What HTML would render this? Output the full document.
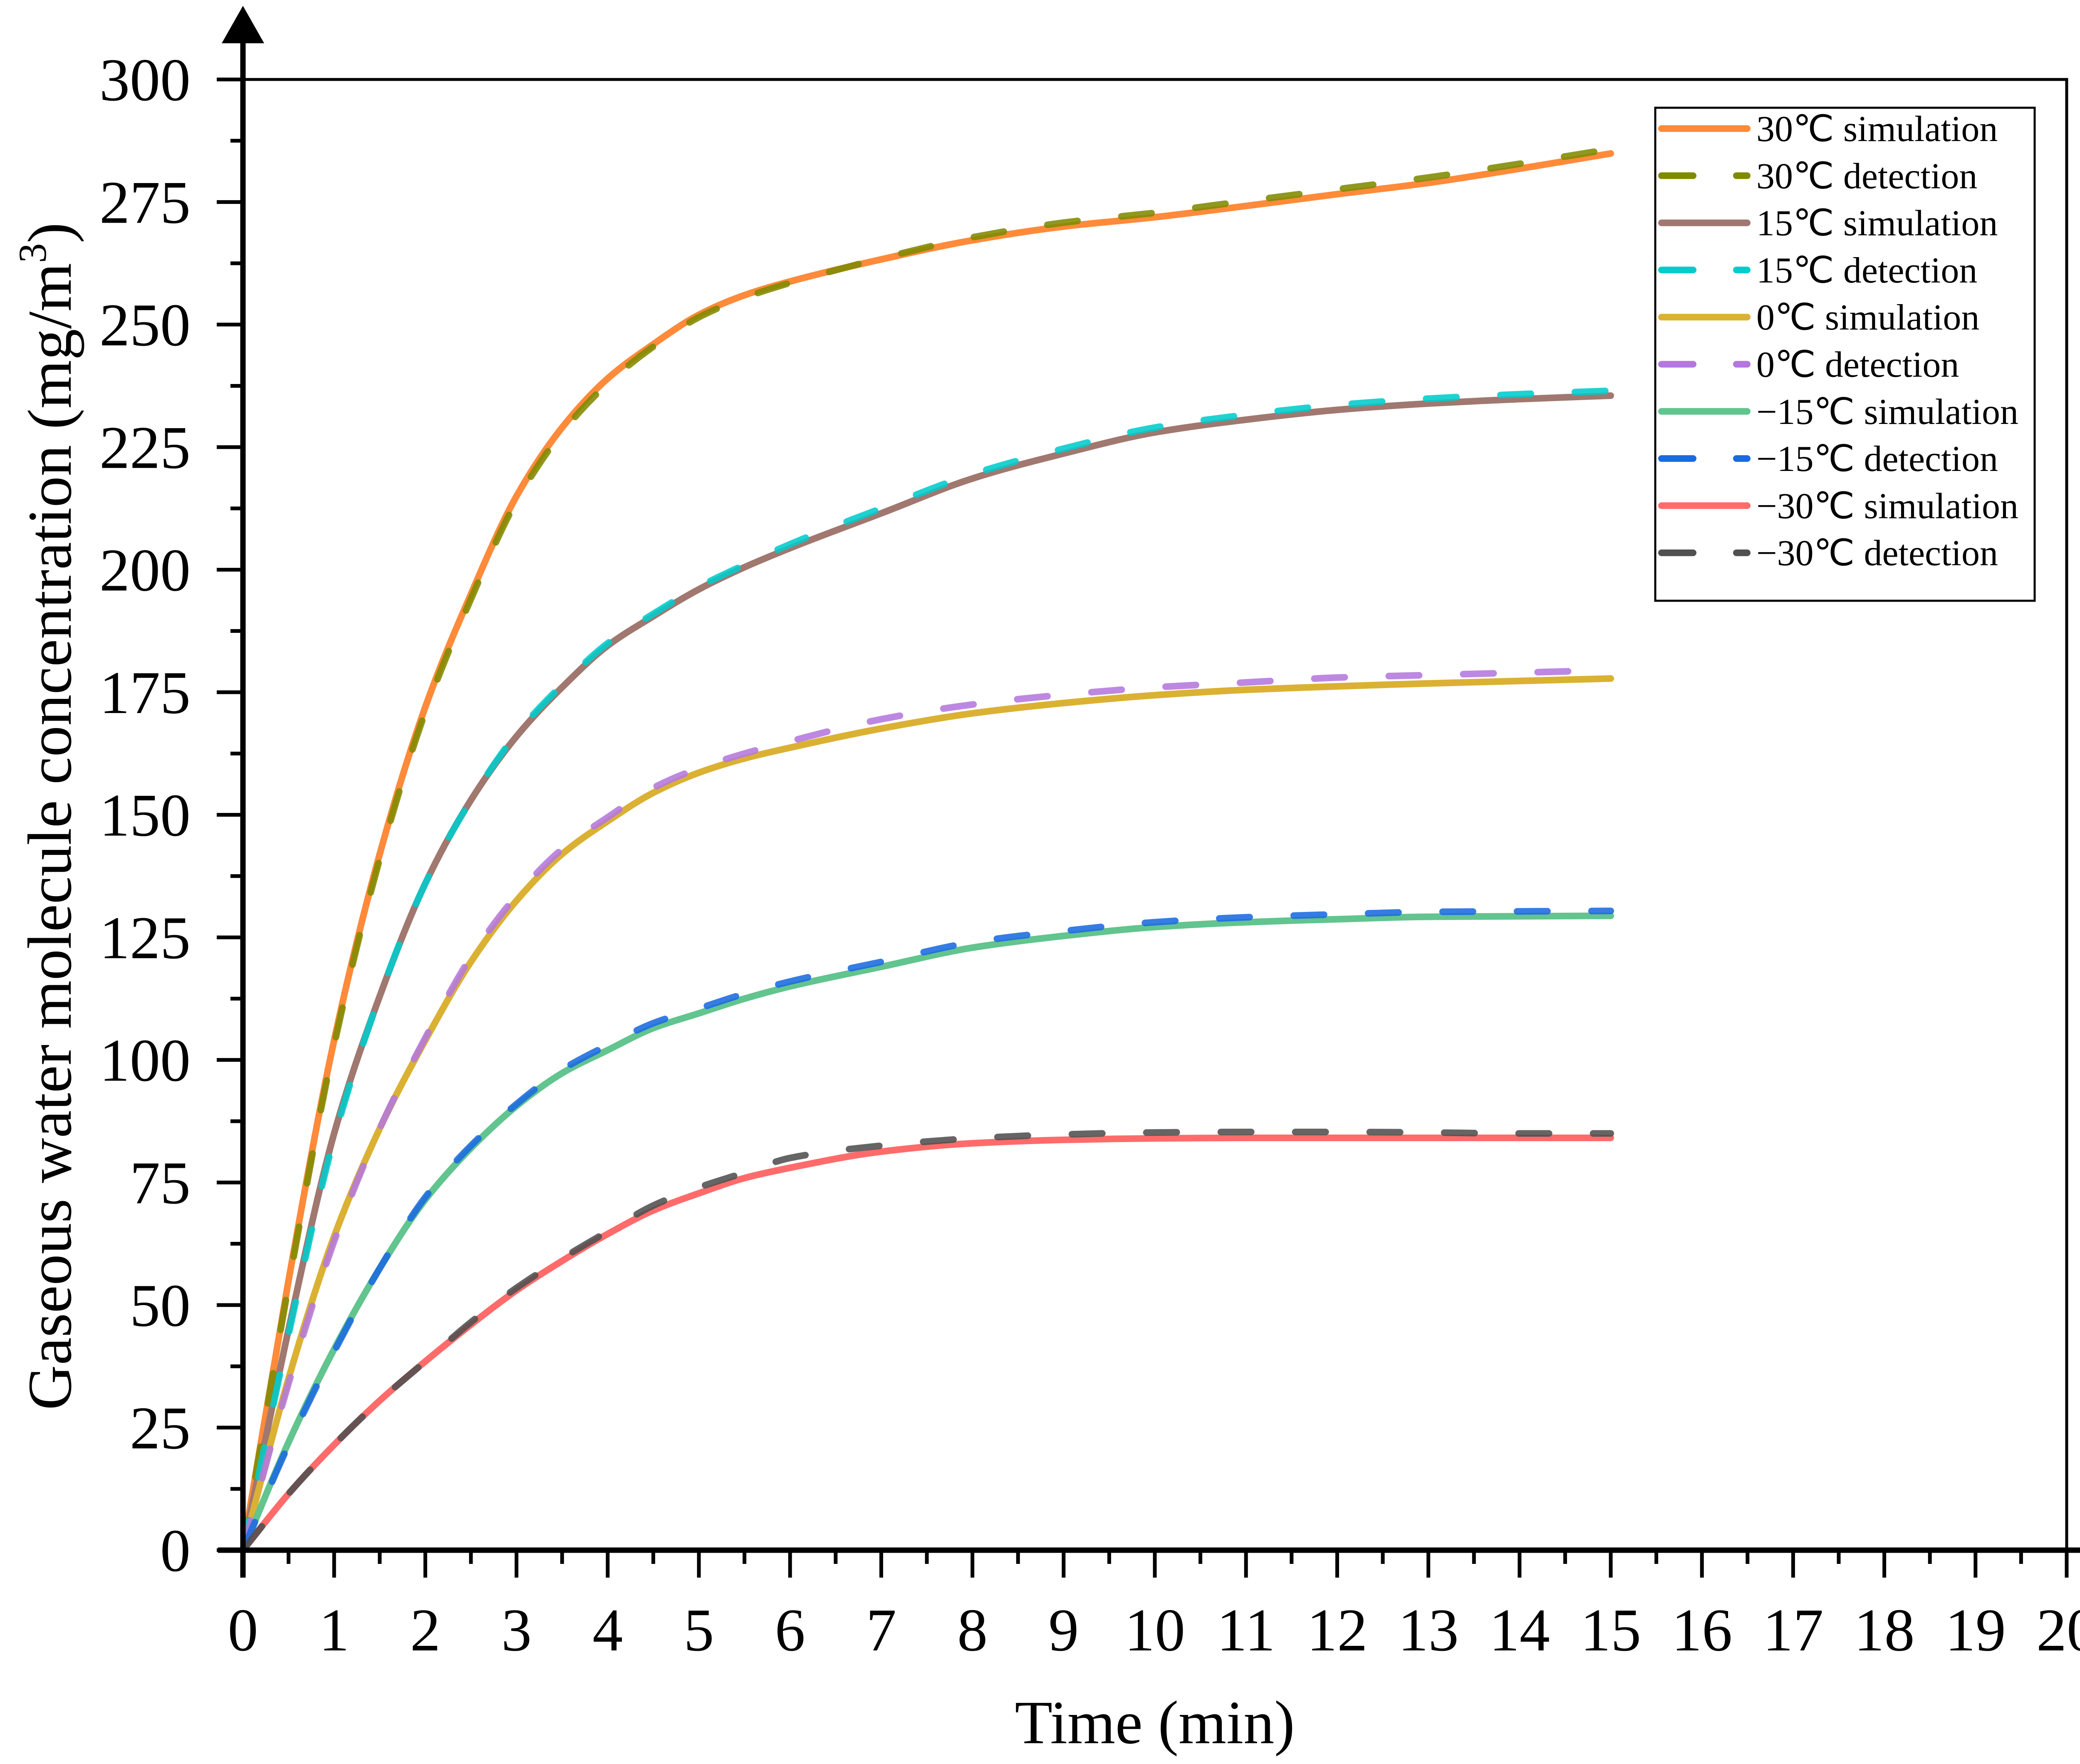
<!DOCTYPE html>
<html><head><meta charset="utf-8">
<style>
html,body{margin:0;padding:0;background:#fff;}
svg{display:block;}
text{font-family:"Liberation Serif","Times New Roman",serif;fill:#000;}
</style></head>
<body>
<svg id="chart" width="5200" height="4240" viewBox="0 0 5200 4240" xmlns="http://www.w3.org/2000/svg">
<rect width="5200" height="4240" fill="#fff"/>
<g id="series"></g>
<g id="axes"></g>
<g id="legend"></g>
<text x="2776" y="4190" font-size="148" text-anchor="middle">Time (min)</text>
<text transform="translate(170,1962) rotate(-90)" font-size="150" text-anchor="middle">Gaseous water molecule concentration (mg/m<tspan font-size="95" dy="-60">3</tspan><tspan dy="60">)</tspan></text>
</svg>
<script>
const xs = [0,0.5,1,1.5,2,2.5,3,3.5,4,4.5,5,5.5,6,7,8,9,10,11,12,13,14,15];
const sim30 = [0,55,104,142,172,195,215,229,239,246,252,256,258.8,263.3,267.2,270,271.9,274.2,276.6,278.9,281.8,284.9];
const det30 = [0,54,103,141,171,194,214,228,238,245.5,251.5,255.5,258.5,263.5,267.8,270.8,272.8,275.2,277.6,280,282.8,285.8];
const sim15 = [0,45,85,113,136,153,166,176,184.5,190.5,196,200.5,204.4,211.5,218.6,223.7,228,230.6,232.6,233.9,234.8,235.5];
const det15 = [0,44,84,113,136,153,166.5,176.5,185,191,196.5,201,205.2,212.5,219.5,224.7,229,231.6,233.6,234.9,235.8,236.5];
const sim0 = [0,35,64,86,104,120,132.5,142,148.7,154.5,158.6,161.5,163.7,167.6,170.7,172.8,174.4,175.5,176.2,176.8,177.3,177.8];
const det0 = [0,34,63,86,104.5,121,133.5,143,149.5,155.5,159.5,162.5,165,169.5,172.5,174.5,176,177,178,178.5,179,179.5];
const simM15 = [0,22,41,57.5,71.5,82,90.6,97.3,102,106.5,109.5,112.5,115,119,122.9,125.3,127.1,128.1,128.7,129.2,129.3,129.4];
const detM15 = [0,21.5,40.5,57.5,72,82.5,91,98,103,107.5,110.5,113.5,116,120,124,126.3,128.1,129.1,129.7,130.2,130.3,130.4];
const simM30 = [0,11.5,21.5,30.5,38.5,46,53,59,64.5,69.3,72.8,75.9,78,81.3,83,83.7,84,84.1,84.1,84.1,84.1,84.1];
const detM30 = [0,11.5,21.5,30.5,38.5,46.5,53.5,59.5,65,70.3,74,77,80,82.5,84,84.8,85.2,85.3,85.3,85.2,85,85];
const xTicks = ["0","1","2","3","4","5","6","7","8","9","10","11","12","13","14","15","16","17","18","19","20"];
const yTicks = ["0","25","50","75","100","125","150","175","200","225","250","275","300"];
const legendLabels = ["30\u2103 simulation","30\u2103 detection","15\u2103 simulation","15\u2103 detection","0\u2103  simulation","0\u2103  detection","\u221215\u2103 simulation","\u221215\u2103 detection","\u221230\u2103 simulation","\u221230\u2103 detection"];

const NS="http://www.w3.org/2000/svg";
const L=584,R=4968,T=191,B=3726;
const X=v=>L+(v/20)*(R-L);
const Y=v=>B-(v/300)*(B-T);
function mk(tag,attrs,parent){const e=document.createElementNS(NS,tag);for(const k in attrs)e.setAttribute(k,attrs[k]);parent.appendChild(e);return e;}
function pathD(arr){
  const n=xs.length, d=[], m=new Array(n);
  for(let i=0;i<n-1;i++) d.push((arr[i+1]-arr[i])/(xs[i+1]-xs[i]));
  m[0]=d[0]; m[n-1]=d[n-2];
  for(let i=1;i<n-1;i++){
    if(d[i-1]*d[i]<=0) m[i]=0;
    else { const h0=xs[i]-xs[i-1],h1=xs[i+1]-xs[i];
      const w1=2*h1+h0,w2=h1+2*h0; m[i]=(w1+w2)/(w1/d[i-1]+w2/d[i]); }
  }
  let s="M"+X(xs[0]).toFixed(1)+","+Y(arr[0]).toFixed(1);
  for(let i=0;i<n-1;i++){
    const h=xs[i+1]-xs[i];
    const c1x=xs[i]+h/3,c1y=arr[i]+m[i]*h/3;
    const c2x=xs[i+1]-h/3,c2y=arr[i+1]-m[i+1]*h/3;
    s+=" C"+X(c1x).toFixed(1)+","+Y(c1y).toFixed(1)+" "+X(c2x).toFixed(1)+","+Y(c2y).toFixed(1)+" "+X(xs[i+1]).toFixed(1)+","+Y(arr[i+1]).toFixed(1);
  }
  return s;
}
const series=[
 {d:sim30,c:"#ff8a3a",dash:false,n:"line-30c-simulation"},
 {d:det30,c:"#7f8a00",dash:true,n:"line-30c-detection"},
 {d:sim15,c:"#a07870",dash:false,n:"line-15c-simulation"},
 {d:det15,c:"#00cccc",dash:true,n:"line-15c-detection"},
 {d:sim0,c:"#dbb133",dash:false,n:"line-0c-simulation"},
 {d:det0,c:"#b477dd",dash:true,n:"line-0c-detection"},
 {d:simM15,c:"#62c48e",dash:false,n:"line-minus15c-simulation"},
 {d:detM15,c:"#1a6ae0",dash:true,n:"line-minus15c-detection"},
 {d:simM30,c:"#ff6b6b",dash:false,n:"line-minus30c-simulation"},
 {d:detM30,c:"#505050",dash:true,n:"line-minus30c-detection"}
];
const sg=document.getElementById('series');
[0,2,4,6,8,1,3,5,7,9].forEach(i=>{
  const s=series[i];
  const el=mk('path',{d:pathD(s.d),fill:"none",stroke:s.c,"stroke-width":16,"stroke-linecap":"round","stroke-linejoin":"round"},sg);
  if(s.dash){el.setAttribute('stroke-dasharray','73 106');el.setAttribute('opacity','0.88');}
  
  
});
const ag=document.getElementById('axes');
let f=mk('rect',{x:L,y:T,width:R-L,height:B-T,fill:"none",stroke:"#000","stroke-width":7},ag);


let xa=mk('line',{x1:L-60,y1:B,x2:5110,y2:B,stroke:"#000","stroke-width":13},ag);


let xarr=mk('polygon',{points:"5090,3675 5192,3726 5090,3777",fill:"#000"},ag);


let ya=mk('line',{x1:L,y1:B+66,x2:L,y2:90,stroke:"#000","stroke-width":13},ag);


let yarr=mk('polygon',{points:"584,14 533,104 635,104",fill:"#000"},ag);


xTicks.forEach((t,i)=>{
  const x=X(i);
  mk('line',{x1:x,y1:B,x2:x,y2:B+66,stroke:"#000","stroke-width":9},ag);
  if(i<20){const xm=X(i+0.5);mk('line',{x1:xm,y1:B,x2:xm,y2:B+33,stroke:"#000","stroke-width":9},ag);}
  const tx=mk('text',{x:x,y:3967,"font-size":146,"text-anchor":"middle"},ag);
  tx.textContent=t;
  
  
});
yTicks.forEach((t,i)=>{
  const v=i*25,y=Y(v);
  mk('line',{x1:L-63,y1:y,x2:L,y2:y,stroke:"#000","stroke-width":9},ag);
  if(i<12){const ym=Y(v+12.5);mk('line',{x1:L-30,y1:ym,x2:L,y2:ym,stroke:"#000","stroke-width":9},ag);}
  const tx=mk('text',{x:458,y:y+50,"font-size":146,"text-anchor":"end"},ag);
  tx.textContent=t;
  
  
});
const lg=document.getElementById('legend');
let box=mk('rect',{x:3979,y:259,width:912,height:1185,fill:"#fff",stroke:"#000","stroke-width":5},lg);


legendLabels.forEach((lab,i)=>{
  const y=309+i*113.3;
  const s=series[i];
  const g=mk('g',{},lg);
  
  
  const ln=mk('line',{x1:3994,y1:y,x2:4200,y2:y,stroke:s.c,"stroke-width":16,"stroke-linecap":"round"},g);
  if(s.dash)ln.setAttribute('stroke-dasharray','76 104');
  const tx=mk('text',{x:4222,y:y+30,"font-size":88},g);
  tx.textContent=lab;
});
</script>
</body></html>
